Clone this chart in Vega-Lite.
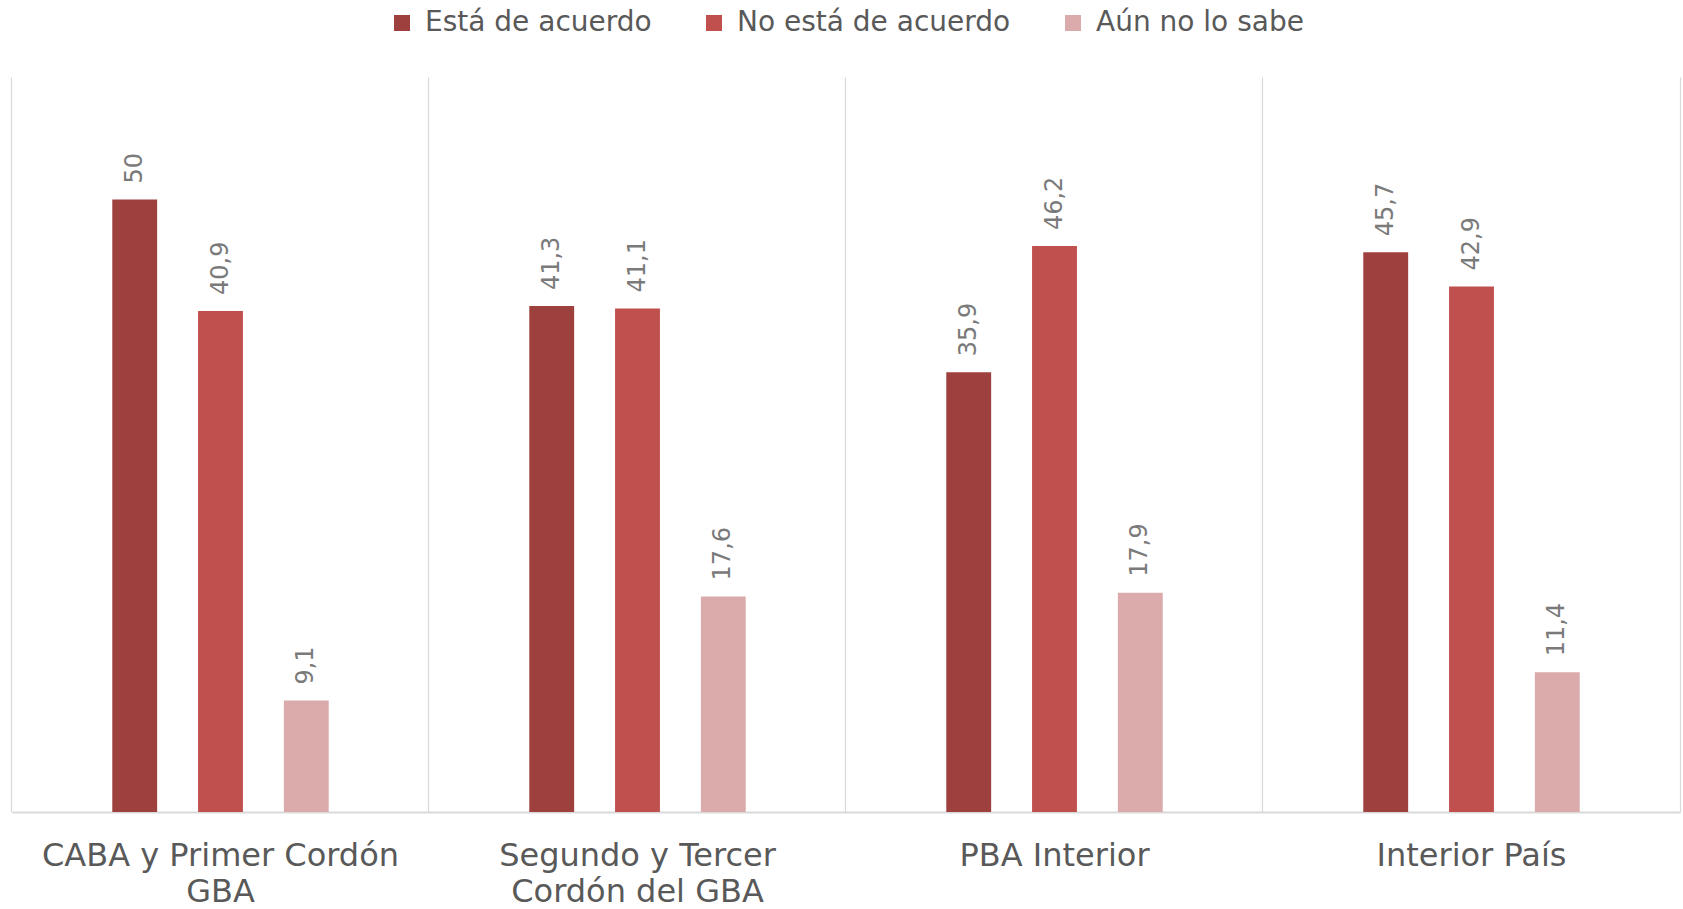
{
  "$schema": "https://vega.github.io/schema/vega-lite/v6.json",
  "autosize": {"type": "none"},
  "width": 1668,
  "height": 735,
  "padding": {"left": 12, "top": 77, "right": 3, "bottom": 97},
  "background": "white",
  "config": {
    "view": {"stroke": null},
    "legend": {"layout": {"top": {"anchor": "middle"}}}
  },
  "data": {
    "values": [
      {"region": "CABA y Primer Cordón GBA", "serie": "Está de acuerdo", "v": 50},
      {"region": "CABA y Primer Cordón GBA", "serie": "No está de acuerdo", "v": 40.9},
      {"region": "CABA y Primer Cordón GBA", "serie": "Aún no lo sabe", "v": 9.1},
      {"region": "Segundo y Tercer Cordón del GBA", "serie": "Está de acuerdo", "v": 41.3},
      {"region": "Segundo y Tercer Cordón del GBA", "serie": "No está de acuerdo", "v": 41.1},
      {"region": "Segundo y Tercer Cordón del GBA", "serie": "Aún no lo sabe", "v": 17.6},
      {"region": "PBA Interior", "serie": "Está de acuerdo", "v": 35.9},
      {"region": "PBA Interior", "serie": "No está de acuerdo", "v": 46.2},
      {"region": "PBA Interior", "serie": "Aún no lo sabe", "v": 17.9},
      {"region": "Interior País", "serie": "Está de acuerdo", "v": 45.7},
      {"region": "Interior País", "serie": "No está de acuerdo", "v": 42.9},
      {"region": "Interior País", "serie": "Aún no lo sabe", "v": 11.4}
    ]
  },
  "transform": [
    {"calculate": "replace(toString(datum.v), '.', ',')", "as": "lbl"}
  ],
  "encoding": {
    "x": {
      "field": "region",
      "type": "nominal",
      "sort": null,
      "scale": {"paddingInner": 0.0695, "paddingOuter": 0.03475},
      "axis": {
        "title": null,
        "labelAngle": 0,
        "labelFont": "DejaVu Sans",
        "labelFontSize": 32,
        "labelColor": "#595959",
        "labelLineHeight": 36,
        "labelPadding": 28,
        "labelLimit": 500,
        "labelExpr": "datum.value == 'CABA y Primer Cordón GBA' ? ['CABA y Primer Cordón', 'GBA'] : datum.value == 'Segundo y Tercer Cordón del GBA' ? ['Segundo y Tercer', 'Cordón del GBA'] : datum.value",
        "ticks": false,
        "domainColor": "#d9d9d9",
        "domainWidth": 2,
        "grid": true,
        "gridColor": "#d9d9d9",
        "gridWidth": 1.2,
        "bandPosition": -0.0374
      }
    },
    "xOffset": {
      "field": "serie",
      "type": "nominal",
      "sort": ["Está de acuerdo", "No está de acuerdo", "Aún no lo sabe"],
      "scale": {"paddingInner": 0.477, "paddingOuter": 1}
    },
    "y": {
      "field": "v",
      "type": "quantitative",
      "scale": {"domain": [0, 60], "nice": false},
      "axis": {
        "orient": "right",
        "title": null,
        "labels": false,
        "ticks": false,
        "grid": false,
        "domain": true,
        "domainColor": "#d9d9d9",
        "domainWidth": 1.2
      }
    }
  },
  "layer": [
    {
      "mark": {"type": "bar"},
      "encoding": {
        "color": {
          "field": "serie",
          "type": "nominal",
          "sort": ["Está de acuerdo", "No está de acuerdo", "Aún no lo sabe"],
          "scale": {
            "domain": ["Está de acuerdo", "No está de acuerdo", "Aún no lo sabe"],
            "range": ["#9e403e", "#c0504d", "#dbaaab"]
          },
          "legend": {
            "title": null,
            "orient": "top",
            "direction": "horizontal",
            "symbolType": "square",
            "symbolSize": 256,
            "symbolStrokeWidth": 0,
            "labelFont": "DejaVu Sans",
            "labelFontSize": 28,
            "labelColor": "#595959",
            "labelLimit": 500,
            "labelOffset": 9,
            "columnPadding": 48,
            "offset": 40
          }
        }
      }
    },
    {
      "mark": {
        "type": "text",
        "angle": -90,
        "align": "left",
        "baseline": "middle",
        "dx": 16,
        "font": "DejaVu Sans",
        "fontSize": 24,
        "color": "#7a7a7a"
      },
      "encoding": {
        "text": {"field": "lbl"}
      }
    }
  ]
}
